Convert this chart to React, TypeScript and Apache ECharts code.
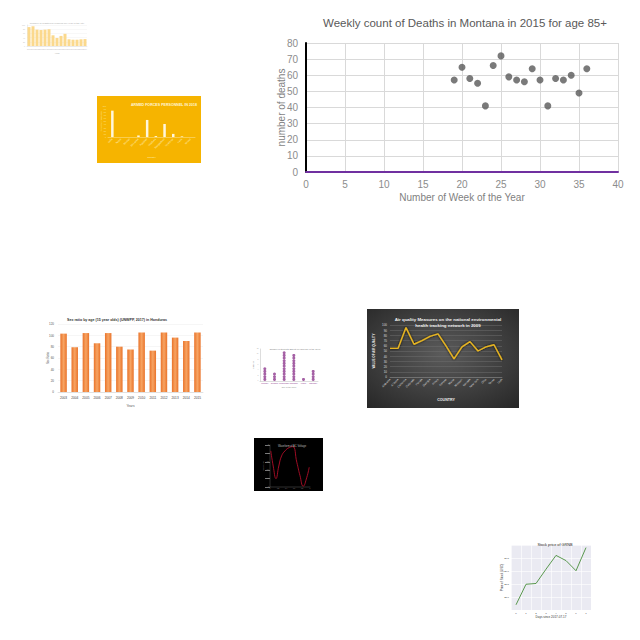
import { useEffect, useRef } from 'react';
import * as echarts from 'echarts';
import type { EChartsOption } from 'echarts';

// main chart: Montana weekly deaths, age 85+
const weeks = [19, 20, 21, 22, 23, 24, 25, 26, 27, 28, 29, 30, 31, 32, 33, 34, 35, 36];
const deaths = [57, 65, 58, 55, 41, 66, 72, 59, 57, 56, 64, 57, 41, 58, 57, 60, 49, 64];

// top-left yellow bars
const yellowYears = ['2000', '2001', '2002', '2003', '2004', '2005', '2006', '2007', '2008', '2009', '2010', '2011', '2012', '2013', '2014'];
const yellowValues = [90, 94, 78, 76, 78, 80, 51, 38, 48, 58, 32, 30, 30, 32, 33];

// armed forces personnel
const armedCountries = ['India', 'Nepal', 'Bhutan', 'Sri Lanka', 'Pakistan', 'Maldives', 'Bangladesh', 'Myanmar', 'Laos', 'Brunei'];
const armedValues = [85, 0, 0, 5, 55, 3, 42, 10, 2, 0];

// Honduras sex ratio
const hondurasYears = ['2003', '2004', '2005', '2006', '2007', '2008', '2009', '2010', '2011', '2012', '2013', '2014', '2015'];
const hondurasRatio = [103, 79, 104, 86, 104, 80, 75, 105, 73, 105, 96, 90, 105];

// purple dot plot
const dotCategories = ['Monday', 'Tuesday', 'Wednesday', 'Thursday', 'Friday', 'Saturday'];
const dotCounts = [5, 3, 11, 10, 1, 4];

// air quality
const airCountries = ['Alabama', 'Arizona', 'California', 'Colorado', 'Florida', 'Georgia', 'Illinois', 'Kansas', 'Maine', 'Missouri', 'Nevada', 'New York', 'Ohio', 'Texas', 'Utah'];
const airValues = [55, 55, 95, 63, 70, 78, 83, 60, 35, 58, 68, 50, 58, 62, 33];

// black waveform
const waveTime = [0.02, 0.08, 0.15, 0.22, 0.29, 0.375, 0.48, 0.57, 0.67, 0.75, 0.83, 0.92, 0.98];
const waveVolts = [0.86, 0.5, 0.2, 0.5, 0.74, 0.86, 0.94, 0.96, 0.59, 0.27, 0.02, 0.23, 0.47];

// GRNB stock
const stockDays = ['0', '1', '2', '3', '4', '5', '6', '7'];
const stockPrice = [24.7, 25.49, 25.52, 26.07, 26.6, 26.4, 26.01, 26.9];

type Box = { left: number; top: number; width: number; height: number };

function Panel({ box, option }: { box: Box; option: EChartsOption }) {
  const ref = useRef<HTMLDivElement | null>(null);

  useEffect(() => {
    if (!ref.current) return;
    const chart = echarts.init(ref.current, null, { renderer: 'svg' });
    chart.setOption(option);
    return () => chart.dispose();
  }, [option]);

  return <div ref={ref} style={{ position: 'absolute', ...box }} />;
}

const sans = 'Liberation Sans, Arial, sans-serif';

const mainOption: EChartsOption = {
  animation: false,
  textStyle: { fontFamily: sans },
  title: {
    text: 'Weekly count of Deaths in Montana in 2015 for age 85+',
    left: 205,
    top: 4,
    textAlign: 'center',
    textStyle: { fontSize: 11.5, fontWeight: 'normal', color: '#595959' },
  },
  grid: { left: 51, top: 35, width: 312, height: 129, outerBoundsMode: 'none' },
  xAxis: {
    type: 'value',
    min: 0,
    max: 40,
    interval: 5,
    name: 'Number of Week of the Year',
    nameLocation: 'middle',
    nameGap: 20,
    nameMoveOverlap: false,
    nameTextStyle: { color: '#7f7f7f', fontSize: 10 },
    axisLine: { show: true, lineStyle: { color: '#7030a0', width: 2 } },
    axisTick: { show: false },
    axisLabel: { color: '#8c8c8c', fontSize: 10, margin: 7 },
    splitLine: { show: true, lineStyle: { color: '#d9d9d9' } },
  },
  yAxis: {
    type: 'value',
    min: 0,
    max: 80,
    interval: 10,
    name: 'number of deaths',
    nameLocation: 'middle',
    nameGap: 20,
    nameMoveOverlap: false,
    nameTextStyle: { color: '#7f7f7f', fontSize: 10 },
    axisLine: { show: true, lineStyle: { color: '#000', width: 2 } },
    axisTick: { show: false },
    axisLabel: { color: '#8c8c8c', fontSize: 10, margin: 8 },
    splitLine: { show: true, lineStyle: { color: '#d9d9d9' } },
  },
  series: [
    {
      type: 'scatter',
      symbolSize: 7,
      itemStyle: { color: '#595959' },
      data: weeks.map((w, i) => [w, deaths[i]]),
    },
  ],
};

const yellowOption: EChartsOption = {
  animation: false,
  textStyle: { fontFamily: sans },
  title: {
    text: 'Number of registered vehicles per year in the city',
    left: 40,
    top: 5,
    textAlign: 'center',
    textStyle: { fontSize: 2.5, fontWeight: 'normal', color: '#aaa' },
  },
  grid: { left: 15, top: 13, width: 60, height: 21, outerBoundsMode: 'none' },
  xAxis: {
    type: 'category',
    data: yellowYears,
    name: 'Year',
    nameLocation: 'middle',
    nameGap: 6,
    nameMoveOverlap: false,
    nameTextStyle: { fontSize: 2.5, color: '#aaa' },
    axisLine: { lineStyle: { color: '#ddd', width: 0.5 } },
    axisTick: { show: false },
    axisLabel: { fontSize: 1.8, color: '#bbb', interval: 0, margin: 2 },
  },
  yAxis: {
    type: 'value',
    min: 0,
    max: 100,
    interval: 20,
    axisLine: { show: true, lineStyle: { color: '#ddd', width: 0.5 } },
    axisLabel: { fontSize: 1.8, color: '#bbb', margin: 2 },
    splitLine: { lineStyle: { color: '#f0f0f0', width: 0.5 } },
  },
  series: [
    { type: 'bar', data: yellowValues, barCategoryGap: '25%', itemStyle: { color: '#fbd98d' } },
  ],
};

const armedOption: EChartsOption = {
  animation: false,
  backgroundColor: '#f6b400',
  textStyle: { fontFamily: sans },
  title: {
    text: 'ARMED FORCES PERSONNEL IN 2018',
    left: 62,
    top: 2,
    textAlign: 'center',
    textStyle: { fontSize: 3.6, fontWeight: 'bold', color: '#fff5d6' },
  },
  grid: { left: 11, top: 10, right: 6, bottom: 26, outerBoundsMode: 'none' },
  xAxis: {
    type: 'category',
    data: armedCountries,
    name: 'Country',
    nameLocation: 'middle',
    nameGap: 19,
    nameMoveOverlap: false,
    nameTextStyle: { fontSize: 2.5, color: '#fff2c0' },
    axisLine: { lineStyle: { color: '#fde7a0', width: 0.5 } },
    axisTick: { show: false },
    axisLabel: { fontSize: 2.5, color: '#fff0c0', interval: 0, rotate: 45, margin: 2 },
  },
  yAxis: {
    type: 'value',
    min: 0,
    max: 100,
    interval: 10,
    name: 'Personnel (thousands)',
    nameLocation: 'middle',
    nameGap: 6,
    nameMoveOverlap: false,
    nameTextStyle: { fontSize: 2, color: '#fde7a0' },
    axisLine: { show: false },
    axisLabel: { fontSize: 2, color: '#fde7a0', margin: 2 },
    splitLine: { show: false },
  },
  series: [{ type: 'bar', data: armedValues, barWidth: 2.5, itemStyle: { color: '#fff6dc' } }],
};

const hondurasOption: EChartsOption = {
  animation: false,
  textStyle: { fontFamily: sans },
  title: {
    text: 'Sex ratio by age (15 year olds) (UNWPP, 2017) in Honduras',
    left: 22,
    top: 3,
    textStyle: { fontSize: 3.6, fontWeight: 'bold', color: '#333' },
  },
  grid: { left: 18, top: 14, width: 145, height: 68, outerBoundsMode: 'none' },
  xAxis: {
    type: 'category',
    data: hondurasYears,
    name: 'Years',
    nameLocation: 'middle',
    nameGap: 12,
    nameMoveOverlap: false,
    nameTextStyle: { fontSize: 3.2, color: '#555' },
    axisLine: { lineStyle: { color: '#ccc', width: 0.5 } },
    axisTick: { show: false },
    axisLabel: { fontSize: 3.2, color: '#444', interval: 0, margin: 4 },
  },
  yAxis: {
    type: 'value',
    min: 0,
    max: 120,
    interval: 20,
    name: 'Sex Ratio',
    nameLocation: 'middle',
    nameGap: 9,
    nameMoveOverlap: false,
    nameTextStyle: { fontSize: 2.8, color: '#555' },
    axisLine: { show: false },
    axisLabel: { fontSize: 3, color: '#555', margin: 4 },
    splitLine: { lineStyle: { color: '#ececec', width: 0.5 } },
  },
  series: [
    {
      type: 'bar',
      data: hondurasRatio,
      barCategoryGap: '42%',
      itemStyle: {
        color: new echarts.graphic.LinearGradient(0, 0, 1, 0, [
          { offset: 0, color: '#e9732a' },
          { offset: 0.5, color: '#f7a463' },
          { offset: 1, color: '#e9732a' },
        ]),
      },
    },
  ],
};

const dotOption: EChartsOption = {
  animation: false,
  textStyle: { fontFamily: sans },
  title: {
    text: 'Number of students absent on each day of the week',
    left: 42,
    top: 3,
    textAlign: 'center',
    textStyle: { fontSize: 2.2, fontWeight: 'normal', color: '#777' },
  },
  grid: { left: 12, top: 9, width: 58, height: 32, outerBoundsMode: 'none' },
  xAxis: {
    type: 'category',
    data: dotCategories,
    name: 'Day of the week',
    nameLocation: 'middle',
    nameGap: 5,
    nameMoveOverlap: false,
    nameTextStyle: { fontSize: 2, color: '#888' },
    axisLine: { lineStyle: { color: '#bbb', width: 0.5 } },
    axisTick: { show: false },
    axisLabel: { fontSize: 2, color: '#8e3a8e', interval: 0, margin: 1.5 },
  },
  yAxis: {
    type: 'value',
    min: 0,
    max: 12,
    interval: 2,
    name: 'Students',
    nameLocation: 'middle',
    nameGap: 6,
    nameMoveOverlap: false,
    nameTextStyle: { fontSize: 2, color: '#888' },
    axisLine: { show: true, lineStyle: { color: '#bbb', width: 0.5 } },
    axisLabel: { fontSize: 1.6, color: '#aaa', margin: 1.5 },
    splitLine: { show: false },
  },
  series: [
    {
      type: 'scatter',
      symbolSize: 3,
      itemStyle: { color: '#8e3a8e' },
      data: dotCounts.flatMap((n, i) => Array.from({ length: n }, (_, k) => [i, k + 0.6])),
    },
  ],
};

const airOption: EChartsOption = {
  animation: false,
  backgroundColor: new echarts.graphic.RadialGradient(0.5, 0.45, 0.75, [
    { offset: 0, color: '#5b5b5b' },
    { offset: 1, color: '#262626' },
  ]),
  textStyle: { fontFamily: sans },
  title: {
    text: 'Air quality Measures on the national environmental\nhealth tracking network in 2009',
    left: 76,
    top: 3,
    textAlign: 'center',
    textStyle: { fontSize: 4.4, fontWeight: 'bold', color: '#f2f2f2', lineHeight: 5.5 },
  },
  grid: { left: 23, top: 16, width: 112, height: 52, outerBoundsMode: 'none' },
  xAxis: {
    type: 'category',
    data: airCountries,
    boundaryGap: false,
    name: 'COUNTRY',
    nameLocation: 'middle',
    nameGap: 21,
    nameMoveOverlap: false,
    nameTextStyle: { fontSize: 3.6, fontWeight: 'bold', color: '#eee' },
    axisLine: { lineStyle: { color: '#888', width: 0.5 } },
    axisTick: { show: false },
    axisLabel: { fontSize: 2.8, color: '#ddd', interval: 0, rotate: 45, margin: 2 },
  },
  yAxis: {
    type: 'value',
    min: 0,
    max: 100,
    interval: 10,
    name: 'VALUE OF AIR QUALITY',
    nameLocation: 'middle',
    nameGap: 15,
    nameMoveOverlap: false,
    nameTextStyle: { fontSize: 3, fontWeight: 'bold', color: '#eee' },
    axisLine: { show: false },
    axisLabel: { fontSize: 3, color: '#ddd', margin: 3 },
    splitLine: { lineStyle: { color: '#6e6e6e', width: 0.5 } },
  },
  series: [
    {
      type: 'line',
      data: airValues,
      symbol: 'none',
      lineStyle: { color: '#e6b422', width: 1.4, shadowColor: '#000', shadowBlur: 2 },
    },
  ],
};

const waveOption: EChartsOption = {
  animation: false,
  backgroundColor: '#000',
  textStyle: { fontFamily: sans },
  title: {
    text: 'Waveform of AC Voltage',
    left: 33,
    top: 2,
    textAlign: 'center',
    textStyle: { fontSize: 2.6, fontWeight: 'normal', color: '#bbb' },
  },
  grid: { left: 16, top: 7, width: 40, height: 42, outerBoundsMode: 'none' },
  xAxis: {
    type: 'value',
    min: 0,
    max: 1,
    interval: 0.2,
    name: 'Time (s)',
    nameLocation: 'middle',
    nameGap: 3,
    nameMoveOverlap: false,
    nameTextStyle: { fontSize: 1.8, color: '#999' },
    axisLine: { lineStyle: { color: '#777', width: 0.4 } },
    axisTick: { show: false },
    axisLabel: { fontSize: 1.6, color: '#999', margin: 1 },
    splitLine: { show: false },
  },
  yAxis: {
    type: 'value',
    min: 0,
    max: 1,
    interval: 0.2,
    name: 'Voltage (V)',
    nameLocation: 'middle',
    nameGap: 6,
    nameMoveOverlap: false,
    nameTextStyle: { fontSize: 1.8, color: '#999' },
    axisLine: { show: true, lineStyle: { color: '#777', width: 0.4 } },
    axisLabel: { fontSize: 1.6, color: '#999', margin: 1 },
    splitLine: { show: false },
  },
  series: [
    {
      type: 'line',
      smooth: true,
      symbol: 'none',
      data: waveTime.map((t, i) => [t, waveVolts[i]]),
      lineStyle: { color: '#c8102e', width: 0.8 },
    },
  ],
};

const stockOption: EChartsOption = {
  animation: false,
  textStyle: { fontFamily: sans },
  title: {
    text: 'Stock price of GRNB',
    left: 53,
    top: 5,
    textAlign: 'center',
    textStyle: { fontSize: 3.8, fontWeight: 'normal', color: '#222' },
  },
  grid: { left: 14, top: 12, width: 80, height: 65, show: true, backgroundColor: '#eaeaf2', borderWidth: 0, outerBoundsMode: 'none' },
  xAxis: {
    type: 'category',
    data: stockDays,
    name: 'Days since 2017-07-17',
    nameLocation: 'middle',
    nameGap: 5,
    nameMoveOverlap: false,
    nameTextStyle: { fontSize: 3, color: '#333' },
    axisLine: { show: false },
    axisTick: { show: false },
    axisLabel: { fontSize: 2.5, color: '#444', interval: 0, margin: 2 },
    splitLine: { show: true, interval: 0, lineStyle: { color: '#fff', width: 0.6 } },
  },
  yAxis: {
    type: 'value',
    min: 24.5,
    max: 27,
    interval: 0.5,
    name: 'Price of Stock (USD)',
    nameLocation: 'middle',
    nameGap: 8,
    nameMoveOverlap: false,
    nameTextStyle: { fontSize: 3, color: '#333' },
    axisLine: { show: false },
    axisTick: { show: false },
    axisLabel: {
      fontSize: 2.5,
      color: '#444',
      margin: 2,
      formatter: (v: number) => (v > 24.9 && v < 26.9 ? v.toFixed(1) : ''),
    },
    splitLine: { lineStyle: { color: '#fff', width: 0.6 } },
  },
  series: [
    { type: 'line', data: stockPrice, symbol: 'none', lineStyle: { color: '#4a8f3c', width: 0.9 } },
  ],
};

export default function App() {
  return (
    <div style={{ position: 'absolute', left: 0, top: 0, width: 640, height: 640, background: '#fff', overflow: 'hidden' }}>
      <Panel box={{ left: 255, top: 8, width: 380, height: 200 }} option={mainOption} />
      <Panel box={{ left: 12, top: 12, width: 81, height: 50 }} option={yellowOption} />
      <Panel box={{ left: 97, top: 96, width: 104, height: 67 }} option={armedOption} />
      <Panel box={{ left: 40, top: 310, width: 175, height: 102 }} option={hondurasOption} />
      <Panel box={{ left: 248, top: 340, width: 80, height: 48 }} option={dotOption} />
      <Panel box={{ left: 367, top: 309, width: 152, height: 99 }} option={airOption} />
      <Panel box={{ left: 254, top: 438, width: 69, height: 53 }} option={waveOption} />
      <Panel box={{ left: 497, top: 533, width: 97, height: 90 }} option={stockOption} />
    </div>
  );
}
